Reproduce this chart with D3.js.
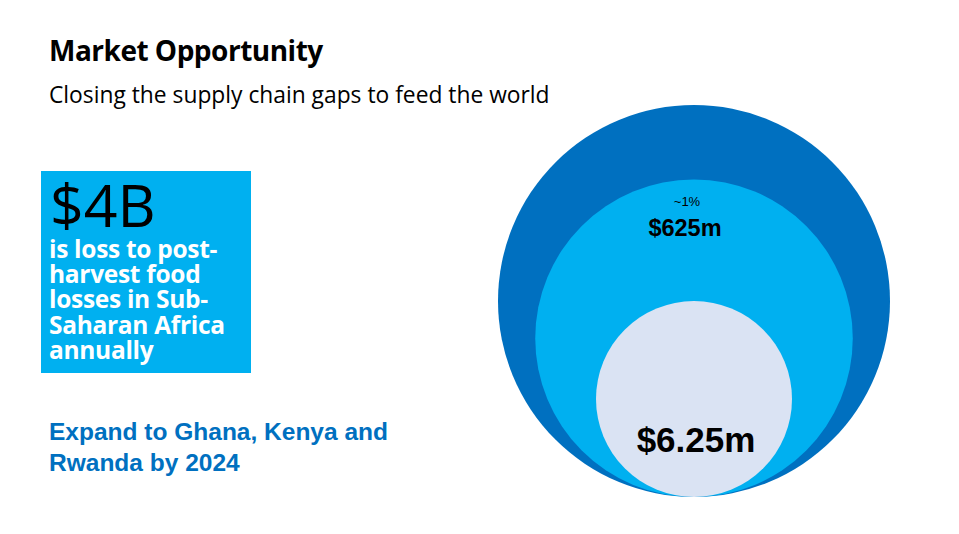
<!DOCTYPE html><html><head><meta charset="utf-8"><script src="https://cdn.jsdelivr.net/npm/d3@7"></script>
<style>body{margin:0;background:#fff}</style></head><body><svg id="c" width="959" height="534"></svg>
<script>
const labels = ["", "$625m", "$6.25m"];
const notes = ["", "~1%", ""];
const relSize = [1, 0.81, 0.5]; // relative circle diameters
const colors = ["#0070c0", "#00b0f0", "#dae3f3"];
const bodyLines = ["is loss to post-","harvest food","losses in Sub-","Saharan Africa","annually"];
const svg = d3.select("#c");
const r = d3.scaleLinear().domain([0,1]).range([0,196]);
const bottom = 497, cx = 694;
svg.selectAll("circle").data(relSize).join("circle")
  .attr("cx", cx).attr("cy", d => bottom - r(d)).attr("r", d => r(d)).attr("fill", (d,i)=>colors[i]);
const f = "'Open Sans','Noto Sans',sans-serif";
svg.append("text").attr("x",49).attr("y",61).attr("font-family",f).attr("font-weight",700).attr("font-size",28).attr("letter-spacing",-0.5).text("Market Opportunity");
svg.append("text").attr("x",49).attr("y",103).attr("font-family",f).attr("font-size",22.8).text("Closing the supply chain gaps to feed the world");
svg.append("rect").attr("x",41).attr("y",171).attr("width",210).attr("height",202).attr("fill","#00b0f0");
svg.append("text").attr("x",50).attr("y",227).attr("font-family",f).attr("font-size",59).text("$4B");
svg.append("g").selectAll("text").data(bodyLines).join("text").attr("x",49).attr("y",(d,i)=>258+i*25.2)
  .attr("font-family",f).attr("font-weight",700).attr("font-size",24.5).attr("fill","#fff").attr("letter-spacing",-0.3).text(d=>d);
["Expand to Ghana, Kenya and","Rwanda by 2024"].forEach((t,i)=>svg.append("text").attr("x",49).attr("y",440+i*31)
  .attr("font-family","'Liberation Sans',Arial,sans-serif").attr("font-weight",700).attr("font-size",24.5).attr("fill","#0070c0").text(t));
svg.append("text").attr("x",687).attr("y",206).attr("text-anchor","middle").attr("font-family","'Liberation Sans',Arial").attr("font-size",13).text(notes[1]);
svg.append("text").attr("x",685).attr("y",236).attr("text-anchor","middle").attr("font-family","'Liberation Sans',Arial").attr("font-weight",700).attr("font-size",23.5).text(labels[1]);
svg.append("text").attr("x",696).attr("y",452).attr("text-anchor","middle").attr("font-family","'Liberation Sans',Arial").attr("font-weight",700).attr("font-size",35).text(labels[2]);
</script></body></html>
